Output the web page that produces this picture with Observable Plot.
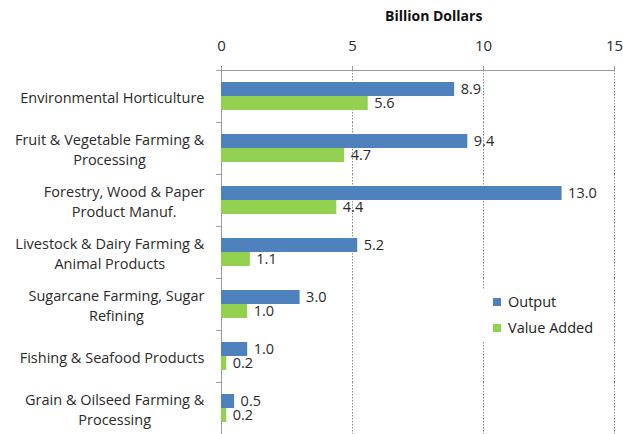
<!DOCTYPE html>
<html>
<head>
<meta charset="utf-8">
<script src="https://cdn.jsdelivr.net/npm/d3@7"></script>
<script src="https://cdn.jsdelivr.net/npm/@observablehq/plot@0.6"></script>
<style>
  body { margin: 0; background: #fff; font-family: "Open Sans", sans-serif; }
  #wrap { position: relative; width: 623px; height: 434px; }
  #title { height: 30px; box-sizing: border-box; padding-left: 385px; padding-top: 6px; font-size: 14px; font-weight: bold; color: #111; line-height: 20px; }
  #legend { position: absolute; left: 479px; top: 289px; width: 118px; height: 52px; background: #fff; font-size: 14.5px; color: #222; }
  .item { position: absolute; left: 14px; display: flex; align-items: center; white-space: nowrap; }
  .sw { width: 8px; height: 8px; margin-right: 7px; }
</style>
</head>
<body>
<div id="wrap">
  <div id="title">Billion Dollars</div>
  <div id="chart"></div>
  <div id="legend"></div>
</div>
<script>
const categories = [
  "Environmental Horticulture",
  "Fruit & Vegetable Farming & Processing",
  "Forestry, Wood & Paper Product Manuf.",
  "Livestock & Dairy Farming & Animal Products",
  "Sugarcane Farming, Sugar Refining",
  "Fishing & Seafood Products",
  "Grain & Oilseed Farming & Processing"
];
const categoryLabels = [
  "Environmental Horticulture",
  "Fruit & Vegetable Farming &\nProcessing",
  "Forestry, Wood & Paper\nProduct Manuf.",
  "Livestock & Dairy Farming &\nAnimal Products",
  "Sugarcane Farming, Sugar\nRefining",
  "Fishing & Seafood Products",
  "Grain & Oilseed Farming &\nProcessing"
];
const output = [8.9, 9.4, 13.0, 5.2, 3.0, 1.0, 0.5];
const valueAdded = [5.6, 4.7, 4.4, 1.1, 1.0, 0.2, 0.2];
const series = ["Output", "Value Added"];
const colors = ["#4F81BD", "#92D050"];
const xTicks = [0, 5, 10, 15];
const xTitle = "Billion Dollars";

const data = categories.flatMap((c, i) => [
  {category: c, series: series[0], value: output[i]},
  {category: c, series: series[1], value: valueAdded[i]}
]);
const labelOf = new Map(categories.map((c, i) => [c, categoryLabels[i]]));

const H = 404, MT = 39, MB = 0;
const halfStep = (H - MT - MB) / categories.length / 2;

const plot = Plot.plot({
  width: 623,
  height: H,
  marginTop: MT,
  marginLeft: 221,
  marginRight: 9,
  marginBottom: MB,
  style: {fontFamily: "Open Sans, sans-serif", color: "#2a2a2a", background: "#fff"},
  x: {domain: [0, 15]},
  fy: {domain: categories, padding: 0},
  y: {domain: series, paddingInner: 0, paddingOuter: 0.79},
  color: {domain: series, range: colors},
  marks: [
    Plot.gridX({ticks: xTicks.filter(d => d > 0), stroke: "#8a8a8a", strokeOpacity: 1, strokeDasharray: "1.5,1.5"}),
    Plot.frame({anchor: "top", stroke: "#9a9a9a", facetAnchor: "top"}),
    Plot.ruleX([0], {stroke: "#9a9a9a"}),
    Plot.axisX({anchor: "top", ticks: xTicks, tickSize: 5, tickPadding: 15, fontSize: 15, label: null, stroke: "#9a9a9a", color: "#2a2a2a"}),
    Plot.axisFy({anchor: "left", tickSize: 5, tickFormat: () => "", label: null, dy: -halfStep, stroke: "#9a9a9a"}),
    Plot.axisFy({anchor: "left", tickSize: 0, tickPadding: 17, textAnchor: "middle", fontSize: 14.5, lineHeight: 1.38, label: null, tickFormat: d => labelOf.get(d), color: "#2a2a2a"}),
    Plot.axisY({ticks: [], label: null}),
    Plot.barX(data, {fy: "category", y: "series", x: "value", fill: "series"}),
    Plot.text(data, {fy: "category", y: "series", x: "value", text: d => d.value.toFixed(1), dx: 6, textAnchor: "start", fontSize: 14.5, fill: "#2a2a2a"})
  ]
});
document.getElementById("chart").append(plot);

// center multi-line category labels under their longest (right-aligned) line
plot.querySelectorAll('g[aria-label="fy-axis tick label"] text').forEach(t => {
  const w = t.getBBox().width;
  t.setAttribute("transform", (t.getAttribute("transform") || "") + ` translate(${-w / 2},0)`);
});

const color = plot.scale("color");
const legend = document.getElementById("legend");
color.domain.forEach((s, i) => {
  const item = document.createElement("div");
  item.className = "item";
  item.style.top = (3 + i * 26) + "px";
  const sw = document.createElement("div");
  sw.className = "sw";
  sw.style.background = color.range[i];
  const lab = document.createElement("span");
  lab.textContent = s;
  item.append(sw, lab);
  legend.append(item);
});
</script>
</body>
</html>
